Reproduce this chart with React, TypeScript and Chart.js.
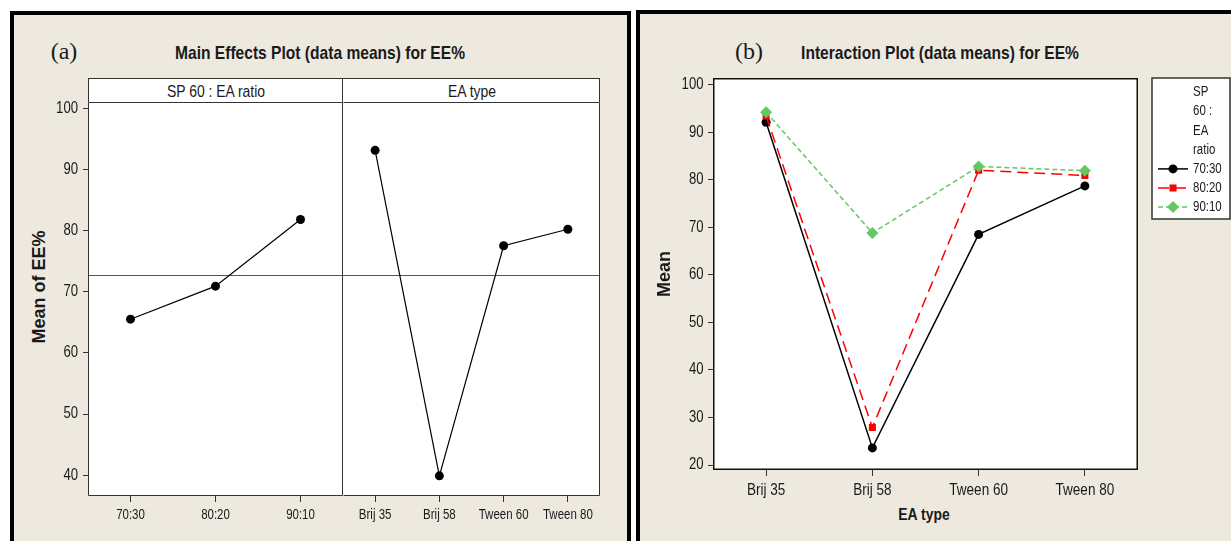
import React, { useEffect, useRef } from 'react';
import { Chart, registerables } from 'chart.js';
import { drawPoint } from 'chart.js/helpers';

Chart.register(...registerables);

const SANS = "'Liberation Sans', Arial, sans-serif";
const SERIF = "'Liberation Serif', 'Times New Roman', serif";
const BEIGE = '#EDE9DF';
const INK = '#1a1a1a';
const NARROW_X = 0.82; // Arial Narrow look: horizontally compressed Liberation Sans

// ---- data ----
const ratioLevels = ['70:30', '80:20', '90:10'];
const ratioMeans = [65.5, 70.9, 81.8];
const eaTypes = ['Brij 35', 'Brij 58', 'Tween 60', 'Tween 80'];
const eaMeans = [93.1, 39.9, 77.5, 80.2];
const grandMean = 72.7;
const mainYTicks = [40, 50, 60, 70, 80, 90, 100];

const mean7030 = [92.1, 23.6, 68.5, 78.7];
const mean8020 = [93.4, 27.9, 82.0, 80.9];
const mean9010 = [94.2, 68.8, 82.8, 81.9];
const interYTicks = [20, 30, 40, 50, 60, 70, 80, 90, 100];
const legendTitle = ['SP', '60 :', 'EA', 'ratio'];

function narrowText(ctx: CanvasRenderingContext2D, text: string, x: number, y: number, align: CanvasTextAlign, size: number, bold = false) {
  ctx.save();
  ctx.translate(x, y);
  ctx.scale(NARROW_X, 1);
  ctx.font = `${bold ? 'bold ' : ''}${size}px ${SANS}`;
  ctx.fillStyle = INK;
  ctx.textAlign = align;
  ctx.textBaseline = 'middle';
  ctx.fillText(text, 0, 0);
  ctx.restore();
}

const framePlugin = {
  id: 'frame',
  beforeDraw(chart: any) {
    const { ctx, chartArea: a } = chart;
    ctx.save();
    ctx.fillStyle = '#ffffff';
    ctx.fillRect(a.left, a.top, a.right - a.left, a.bottom - a.top);
    ctx.restore();
  },
  beforeDatasetsDraw(chart: any, _a: any, opts: any) {
    if (opts.refValue == null) return;
    const { ctx, chartArea: a } = chart;
    const y = Math.round(chart.scales.y.getPixelForValue(opts.refValue)) + 0.5;
    ctx.save();
    ctx.strokeStyle = opts.refColor || '#555';
    ctx.lineWidth = 1;
    ctx.beginPath();
    ctx.moveTo(a.left, y);
    ctx.lineTo(a.right, y);
    ctx.stroke();
    ctx.restore();
  },
  afterDraw(chart: any, _a: any, opts: any) {
    const { ctx, chartArea: a } = chart;
    const lw = opts.width || 1;
    const h = lw / 2;
    const l = Math.round(a.left) + h;
    const r = Math.round(a.right) - h;
    const t = Math.round(a.top) + h;
    const b = Math.round(a.bottom) - h;
    ctx.save();
    ctx.strokeStyle = opts.color || '#333';
    ctx.lineWidth = lw;
    ctx.beginPath();
    ctx.moveTo(l, t);
    ctx.lineTo(r, t);
    ctx.lineTo(r, b);
    ctx.lineTo(l, b);
    if (!opts.skipLeft) ctx.closePath();
    ctx.stroke();
    ctx.restore();
  },
};

// tick labels drawn in a narrow face at the positions of the chart's own scales
const tickLabelPlugin = {
  id: 'narrowTicks',
  afterDraw(chart: any, _a: any, o: any) {
    const { ctx } = chart;
    const xs = chart.scales.x;
    if (o.x) {
      xs.ticks.forEach((t: any, i: number) => {
        narrowText(ctx, String(xs.getLabelForValue(t.value)), xs.getPixelForTick(i), xs.top + o.x.gap, 'center', o.x.size);
      });
    }
    const ys = chart.scales.y;
    if (o.y) {
      ys.ticks.forEach((t: any, i: number) => {
        narrowText(ctx, String(t.value), ys.right - o.y.gap, ys.getPixelForTick(i), 'right', o.y.size);
      });
    }
  },
};

const legendPlugin = {
  id: 'boxLegend',
  afterDraw(chart: any, _a: any, o: any) {
    if (!o || !o.show) return;
    const { ctx } = chart;
    ctx.save();
    ctx.fillStyle = '#ffffff';
    ctx.fillRect(o.x, o.y, o.w, o.h);
    ctx.strokeStyle = '#333';
    ctx.lineWidth = 1.5;
    ctx.strokeRect(o.x, o.y, o.w, o.h);
    legendTitle.forEach((t, i) => narrowText(ctx, t, o.textX, o.y0 + i * o.step, 'left', o.size));
    chart.data.datasets.forEach((ds: any, i: number) => {
      const yy = o.y0 + (legendTitle.length + i) * o.step;
      ctx.strokeStyle = ds.borderColor;
      ctx.lineWidth = ds.borderWidth;
      ctx.setLineDash(ds.borderDash || []);
      ctx.beginPath();
      ctx.moveTo(o.sx0, yy);
      ctx.lineTo(o.sx1, yy);
      ctx.stroke();
      ctx.setLineDash([]);
      ctx.fillStyle = ds.backgroundColor;
      ctx.strokeStyle = ds.backgroundColor;
      drawPoint(ctx, { pointStyle: ds.pointStyle, radius: ds.pointRadius, borderWidth: 0, rotation: 0 } as any, (o.sx0 + o.sx1) / 2, yy);
      narrowText(ctx, ds.label, o.textX, yy, 'left', o.size);
    });
    ctx.restore();
  },
};

function tickGrid(len: number) {
  return { display: true, drawOnChartArea: false, drawTicks: true, tickLength: len, color: '#333', offset: false, lineWidth: 1 };
}

function MainChart(props: { left: number; top: number; width: number; height: number; which: 'ratio' | 'ea' }) {
  const ref = useRef<HTMLCanvasElement>(null);
  useEffect(() => {
    const isRatio = props.which === 'ratio';
    const labels = isRatio ? ratioLevels : eaTypes;
    const values = isRatio ? ratioMeans : eaMeans;
    const chart = new Chart(ref.current as HTMLCanvasElement, {
      type: 'line',
      data: {
        labels,
        datasets: [
          {
            data: values,
            borderColor: '#000',
            backgroundColor: '#000',
            borderWidth: 1.2,
            pointRadius: 4.5,
            pointBorderWidth: 0,
            pointStyle: 'circle',
            tension: 0,
          },
        ],
      },
      options: {
        animation: false,
        responsive: false,
        events: [],
        layout: { autoPadding: false, padding: { top: 22, right: isRatio ? 0 : 3, left: 0, bottom: 0 } },
        plugins: {
          legend: { display: false },
          tooltip: { enabled: false },
          frame: { refValue: grandMean, refColor: '#555', color: '#333', width: 1, skipLeft: !isRatio },
          narrowTicks: { x: { gap: 19, size: 14 }, y: isRatio ? { gap: 10, size: 16 } : null },
        } as any,
        scales: {
          x: {
            type: 'category',
            offset: true,
            grid: tickGrid(6) as any,
            border: { display: false },
            ticks: { display: false, autoSkip: false },
            afterFit: (s: any) => { s.height = 45; },
          },
          y: {
            display: isRatio,
            min: 36.6,
            max: 101,
            grid: tickGrid(5) as any,
            border: { display: false },
            ticks: { display: false },
            afterBuildTicks: (s: any) => { s.ticks = mainYTicks.map((v) => ({ value: v })); },
            afterFit: (s: any) => { s.width = isRatio ? 68 : 0; },
          },
        },
      },
      plugins: [framePlugin, tickLabelPlugin],
    });
    return () => chart.destroy();
  }, []);
  return (
    <canvas
      ref={ref}
      width={props.width}
      height={props.height}
      style={{ position: 'absolute', left: props.left, top: props.top, width: props.width, height: props.height }}
    />
  );
}

function InteractionChart() {
  const ref = useRef<HTMLCanvasElement>(null);
  useEffect(() => {
    const chart = new Chart(ref.current as HTMLCanvasElement, {
      type: 'line',
      data: {
        labels: eaTypes,
        datasets: [
          {
            label: '70:30',
            data: mean7030,
            borderColor: '#000000',
            backgroundColor: '#000000',
            borderWidth: 1.5,
            borderDash: [],
            pointStyle: 'circle',
            pointRadius: 4.5,
            pointBorderWidth: 0,
            order: 2,
          },
          {
            label: '80:20',
            data: mean8020,
            borderColor: '#FF0000',
            backgroundColor: '#FF0000',
            borderWidth: 1.5,
            borderDash: [11, 6],
            pointStyle: 'rect',
            pointRadius: 5,
            pointBorderWidth: 0,
            order: 1,
          },
          {
            label: '90:10',
            data: mean9010,
            borderColor: '#62C862',
            backgroundColor: '#62C862',
            borderWidth: 1.5,
            borderDash: [5, 3],
            pointStyle: 'rectRot',
            pointRadius: 6,
            pointBorderWidth: 0,
            order: 0,
          },
        ] as any,
      },
      options: {
        animation: false,
        responsive: false,
        events: [],
        layout: { autoPadding: false, padding: { top: 18, right: 93, left: 0, bottom: 0 } },
        plugins: {
          legend: { display: false },
          tooltip: { enabled: false },
          frame: { color: '#111', width: 1.5 },
          narrowTicks: { x: { gap: 20, size: 16.5 }, y: { gap: 9.5, size: 16 } },
          boxLegend: {
            show: true,
            x: 512, y: 18, w: 78, h: 141,
            textX: 553, y0: 32.5, step: 19.1,
            sx0: 518, sx1: 548,
            size: 14,
          },
        } as any,
        scales: {
          x: {
            type: 'category',
            offset: true,
            grid: tickGrid(6) as any,
            border: { display: false },
            ticks: { display: false, autoSkip: false },
            afterFit: (s: any) => { s.height = 71; },
          },
          y: {
            min: 18.95,
            max: 101.4,
            grid: tickGrid(5) as any,
            border: { display: false },
            ticks: { display: false },
            title: { display: true, text: 'Mean', font: { family: SANS, size: 18, weight: 'bold' }, color: INK, padding: { top: 14, bottom: 0 } },
            afterBuildTicks: (s: any) => { s.ticks = interYTicks.map((v) => ({ value: v })); },
            afterFit: (s: any) => { s.width = 73; },
          },
        },
      },
      plugins: [framePlugin, tickLabelPlugin, legendPlugin],
    });
    return () => chart.destroy();
  }, []);
  return (
    <canvas
      ref={ref}
      width={591}
      height={481}
      style={{ position: 'absolute', left: 640, top: 60, width: 591, height: 481 }}
    />
  );
}

function Label(p: { text: string; x: number; y: number; style?: React.CSSProperties; rotate?: boolean; narrow?: boolean }) {
  return (
    <div
      style={{
        position: 'absolute',
        left: p.x,
        top: p.y,
        transform: `translate(-50%, -50%)${p.rotate ? ' rotate(-90deg)' : ''}${p.narrow ? ` scaleX(${NARROW_X})` : ''}`,
        whiteSpace: 'nowrap',
        lineHeight: 1,
        color: INK,
        fontFamily: SANS,
        ...p.style,
      }}
    >
      {p.text}
    </div>
  );
}

export default function App() {
  return (
    <div style={{ position: 'absolute', left: 0, top: 0, width: 1231, height: 541, overflow: 'hidden', background: '#fff' }}>
      {/* panel (a) */}
      <div style={{ position: 'absolute', left: 10, top: 11, width: 621, height: 620, boxSizing: 'border-box', border: '4px solid #000', background: BEIGE }} />
      {/* panel (b) */}
      <div style={{ position: 'absolute', left: 636, top: 10, width: 700, height: 620, boxSizing: 'border-box', border: '4px solid #000', background: BEIGE }} />

      <Label text="(a)" x={64} y={51} style={{ fontFamily: SERIF, fontSize: 24 }} />
      <Label text="Main Effects Plot (data means) for EE%" x={320} y={52} narrow style={{ fontSize: 19, fontWeight: 'bold' }} />
      <Label text="(b)" x={749} y={51} style={{ fontFamily: SERIF, fontSize: 24 }} />
      <Label text="Interaction Plot (data means) for EE%" x={940} y={52} narrow style={{ fontSize: 19, fontWeight: 'bold' }} />

      {/* header strip of main effects */}
      <div style={{ position: 'absolute', left: 88, top: 78, width: 512, height: 25, boxSizing: 'border-box', border: '1px solid #333', background: '#fff' }} />
      <div style={{ position: 'absolute', left: 342, top: 78, width: 1, height: 25, background: '#333' }} />
      <Label text="SP 60 : EA ratio" x={215.5} y={91} narrow style={{ fontSize: 17 }} />
      <Label text="EA type" x={471.5} y={91} narrow style={{ fontSize: 17 }} />
      <Label text="Mean of EE%" x={39} y={287} rotate style={{ fontSize: 18, fontWeight: 'bold' }} />
      <Label text="EA type" x={924} y={514} narrow style={{ fontSize: 17, fontWeight: 'bold' }} />

      <MainChart which="ratio" left={20} top={80} width={323} height={461} />
      <MainChart which="ea" left={343} top={80} width={260} height={461} />
      <InteractionChart />
    </div>
  );
}
